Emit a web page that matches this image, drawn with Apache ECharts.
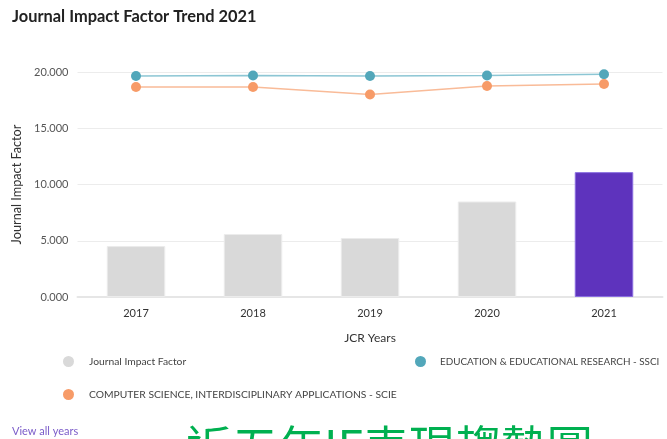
<!DOCTYPE html>
<html>
<head>
<meta charset="utf-8">
<script src="https://cdn.jsdelivr.net/npm/echarts@6/dist/echarts.min.js"></script>
<style>
html,body{margin:0;padding:0;background:#fff;}
#chart{width:667px;height:439px;}
</style>
</head>
<body>
<div id="chart"></div>
<script>
var years = ['2017', '2018', '2019', '2020', '2021'];
var jif = [4.53, 5.60, 5.24, 8.49, 11.10];
var eduSSCI = [19.64, 19.69, 19.64, 19.69, 19.80];
var csSCIE = [18.67, 18.67, 18.00, 18.76, 18.93];
var yTicks = { min: 0, max: 20, interval: 5 };

var FONT = 'Lato, "Open Sans", sans-serif';
var chart = echarts.init(document.getElementById('chart'));

var barData = jif.map(function (v, i) {
  var last = i === jif.length - 1;
  return {
    value: v,
    itemStyle: last ? { color: '#5e33bd', borderColor: '#8a6ee0', borderWidth: 1 } : { color: '#d9d9d9', borderColor: '#ececec', borderWidth: 1 }
  };
});

var legendText = { fontFamily: FONT, fontSize: 10.3, color: '#444', padding: [0, 0, 0, 10] };
var legendText2 = { fontFamily: FONT, fontSize: 9.9, color: '#444', padding: [0, 0, 0, 9] };

chart.setOption({
  animation: false,
  textStyle: { fontFamily: FONT },
  title: {
    text: 'Journal Impact Factor Trend 2021',
    left: 7, top: 4,
    textStyle: { fontFamily: FONT, fontSize: 16.4, fontWeight: 'bold', color: '#222' }
  },
  legend: [
    { left: 58, top: 351, itemWidth: 11, itemHeight: 11, icon: 'circle', padding: 5,
      data: ['Journal Impact Factor'], textStyle: legendText },
    { left: 410, top: 351, itemWidth: 11, itemHeight: 11, icon: 'circle', padding: [5, 0, 5, 5],
      data: ['EDUCATION & EDUCATIONAL RESEARCH - SSCI'], textStyle: legendText2 },
    { left: 58, top: 384, itemWidth: 11, itemHeight: 11, icon: 'circle', padding: 5,
      data: ['COMPUTER SCIENCE, INTERDISCIPLINARY APPLICATIONS - SCIE'], textStyle: legendText }
  ],
  grid: { left: 77.5, right: 4.5, top: 72, bottom: 142, containLabel: false },
  xAxis: {
    type: 'category',
    data: years,
    name: 'JCR Years',
    nameLocation: 'middle',
    nameGap: 35,
    nameTextStyle: { fontFamily: FONT, fontSize: 12, color: '#333' },
    axisLine: { lineStyle: { color: '#e6e6e6', width: 2 } },
    axisTick: { show: false },
    axisLabel: { color: '#333', fontSize: 11, margin: 11, fontFamily: FONT }
  },
  yAxis: {
    type: 'value',
    min: yTicks.min, max: yTicks.max, interval: yTicks.interval,
    name: 'Journal Impact Factor',
    nameLocation: 'middle',
    nameGap: 45,
    nameTextStyle: { fontFamily: FONT, fontSize: 12.7, color: '#333' },
    axisLine: { show: false },
    axisTick: { show: false },
    axisLabel: { color: '#555', fontSize: 11, margin: 9, fontFamily: FONT,
      formatter: function (v) { return v.toFixed(3); } },
    splitLine: { lineStyle: { color: '#ececec', width: 1 } }
  },
  series: [
    {
      name: 'Journal Impact Factor',
      type: 'bar',
      data: barData,
      barWidth: '50%',
      itemStyle: { color: '#d9d9d9' }
    },
    {
      name: 'EDUCATION & EDUCATIONAL RESEARCH - SSCI',
      type: 'line',
      data: eduSSCI,
      symbol: 'circle',
      symbolSize: 10,
      itemStyle: { color: '#52a7ba' },
      lineStyle: { color: '#8cc6d4', width: 1.5 }
    },
    {
      name: 'COMPUTER SCIENCE, INTERDISCIPLINARY APPLICATIONS - SCIE',
      type: 'line',
      data: csSCIE,
      symbol: 'circle',
      symbolSize: 10,
      itemStyle: { color: '#f79b68' },
      lineStyle: { color: '#f9bb98', width: 1.5 }
    }
  ],
  graphic: [
    { type: 'text', left: 12, top: 426,
      style: { text: 'View all years', fill: '#7b5cc9', font: '11px ' + FONT } },
    { type: 'text', left: 186, top: 424,
      style: { text: '近五年IF表現趨勢圖', fill: '#00b050', font: '46px "Noto Sans CJK TC", sans-serif' } }
  ]
});
</script>
</body>
</html>
